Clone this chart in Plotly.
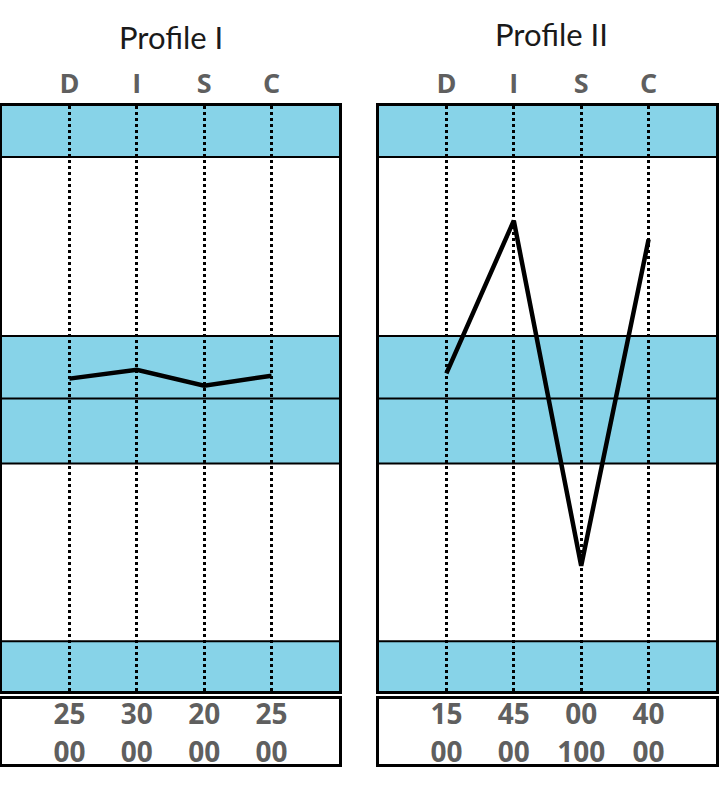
import plotly.graph_objects as go

# ---- data ----
categories = ["D", "I", "S", "C"]
profile_titles = ["Profile I", "Profile II"]
profile1_values = [53.4, 54.9, 52.2, 53.9]      # plotted level (0-100 chart scale)
profile2_values = [54.3, 80.4, 21.4, 77.2]
profile1_top = ["25", "30", "20", "25"]
profile1_bottom = ["00", "00", "00", "00"]
profile2_top = ["15", "45", "00", "40"]
profile2_bottom = ["00", "00", "100", "00"]
band_edges = [0, 8.5, 38.9, 50, 60.7, 91.3, 100]
band_blue = [True, False, True, True, False, True]

BLUE = "#87d3e8"
GRAY = "#5f5f5f"
W, H = 720, 790

def px(x):
    return x / W

def py(y):
    return 1 - y / H

fig = go.Figure()

xcols = [1, 2, 3, 4]
panels = [
    dict(x0=2, x1=339, vals=profile1_values, top=profile1_top, bot=profile1_bottom, title=profile_titles[0], tx=171, ty=37),
    dict(x0=379, x1=716, vals=profile2_values, top=profile2_top, bot=profile2_bottom, title=profile_titles[1], tx=551, ty=34),
]

layout = dict(
    width=W, height=H, margin=dict(l=0, r=0, t=0, b=0),
    paper_bgcolor="white", plot_bgcolor="white", showlegend=False,
)
shapes = []
annotations = []

for i, p in enumerate(panels):
    main = 2 * i + 1
    tab = 2 * i + 2
    xa = f"xaxis{'' if main == 1 else main}"
    ya = f"yaxis{'' if main == 1 else main}"
    xt = f"xaxis{tab}"
    yt = f"yaxis{tab}"
    xref = f"x{'' if main == 1 else main}"
    yref = f"y{'' if main == 1 else main}"
    xref_t = f"x{tab}"
    yref_t = f"y{tab}"

    layout[xa] = dict(
        domain=[px(p["x0"]), px(p["x1"])], range=[0, 5], side="top",
        tickmode="array", tickvals=xcols, ticktext=categories,
        tickfont=dict(family="Open Sans", size=27, color=GRAY, weight="bold"),
        ticks="", showgrid=True, griddash="dot", gridcolor="black", gridwidth=2.5,
        showline=True, linecolor="black", linewidth=2.5, mirror=True,
        zeroline=False, fixedrange=True, anchor=yref, ticklabelstandoff=-1,
    )
    layout[ya] = dict(
        domain=[py(691), py(106)], range=[0, 100], showgrid=False,
        showticklabels=False, ticks="", zeroline=False,
        showline=True, linecolor="black", linewidth=2.5, mirror=True,
        fixedrange=True, anchor=xref,
    )
    layout[xt] = dict(
        domain=[px(p["x0"]), px(p["x1"])], range=[0, 5], showgrid=False,
        showticklabels=False, ticks="", zeroline=False,
        showline=True, linecolor="black", linewidth=2.5, mirror=True,
        fixedrange=True, anchor=yref_t,
    )
    layout[yt] = dict(
        domain=[py(764), py(699)], range=[0, 2], showgrid=False,
        showticklabels=False, ticks="", zeroline=False,
        showline=True, linecolor="black", linewidth=2.5, mirror=True,
        fixedrange=True, anchor=xref_t,
    )

    for k in range(len(band_edges) - 1):
        if band_blue[k]:
            shapes.append(dict(type="rect", xref=xref, yref=yref, x0=0, x1=5,
                               y0=band_edges[k], y1=band_edges[k + 1],
                               fillcolor=BLUE, line=dict(width=0), layer="below"))
    for e in band_edges[1:-1]:
        shapes.append(dict(type="line", xref=xref, yref=yref, x0=0, x1=5, y0=e, y1=e,
                           line=dict(color="black", width=2), layer="below"))

    fig.add_trace(go.Scatter(x=xcols, y=p["vals"], mode="lines",
                             line=dict(color="black", width=4.5),
                             xaxis=xref, yaxis=yref, hoverinfo="skip"))
    fig.add_trace(go.Scatter(x=xcols, y=[1.46] * 4, mode="text", text=p["top"],
                             textfont=dict(family="Open Sans", size=28, color=GRAY, weight="bold"),
                             xaxis=xref_t, yaxis=yref_t, hoverinfo="skip"))
    fig.add_trace(go.Scatter(x=xcols, y=[0.27] * 4, mode="text", text=p["bot"],
                             textfont=dict(family="Open Sans", size=28, color=GRAY, weight="bold"),
                             xaxis=xref_t, yaxis=yref_t, hoverinfo="skip"))

    annotations.append(dict(text=p["title"], xref="paper", yref="paper",
                            x=px(p["tx"]), y=py(p["ty"]), showarrow=False,
                            xanchor="center", yanchor="middle",
                            font=dict(family="Lato", size=31, color="#1a1a1a")))

layout["shapes"] = shapes
layout["annotations"] = annotations
fig.update_layout(**layout)
fig.write_html("out.html", config={"displayModeBar": False},
               post_script="document.body.style.margin='0';")
